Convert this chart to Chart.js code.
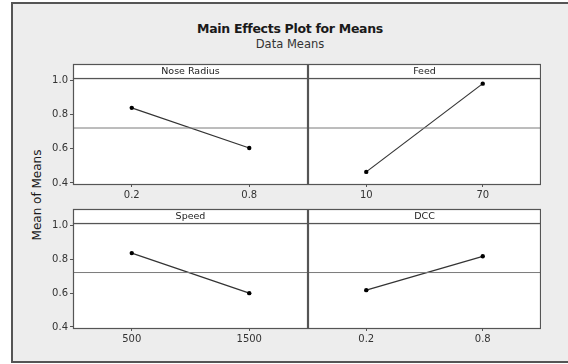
<!DOCTYPE html>
<html>
<head>
<meta charset="utf-8">
<script src="https://cdn.jsdelivr.net/npm/chart.js@4"></script>
<style>
  body{margin:0;background:#fff;width:568px;height:364px;overflow:hidden;position:relative;font-family:"DejaVu Sans",sans-serif;}
  #frame{position:absolute;left:11px;top:2px;width:565px;height:357px;background:#ededed;border:2px solid #555;border-right:none;}
  .txt{position:absolute;white-space:nowrap;color:#1a1a1a;}
  canvas{position:absolute;}
</style>
</head>
<body>
<div id="frame"></div>
<div class="txt" style="left:0;width:580px;top:21px;text-align:center;font-weight:bold;font-size:12.5px;letter-spacing:-0.3px;">Main Effects Plot for Means</div>
<div class="txt" style="left:0;width:580px;top:37px;text-align:center;font-size:11.5px;color:#333;">Data Means</div>
<div class="txt" style="left:37px;top:195px;font-size:12px;transform:translate(-50%,-50%) rotate(-90deg);">Mean of Means</div>

<canvas id="p0" width="268" height="145" style="left:40px;top:60px"></canvas>
<canvas id="p1" width="233" height="145" style="left:308px;top:60px"></canvas>
<canvas id="p2" width="268" height="144" style="left:40px;top:205px"></canvas>
<canvas id="p3" width="233" height="144" style="left:308px;top:205px"></canvas>

<script>
// factor names and their two levels
const factors = ['Nose Radius', 'Feed', 'Speed', 'DCC'];
const noseRadiusLevels = ['0.2', '0.8'];
const feedLevels = ['10', '70'];
const speedLevels = ['500', '1500'];
const dccLevels = ['0.2', '0.8'];

// mean of means at each level
const noseRadiusMeans = [0.840, 0.605];
const feedMeans = [0.465, 0.982];
const speedMeans = [0.837, 0.600];
const dccMeans = [0.618, 0.818];
const grandMean = 0.722;

const yTicks = [0.4, 0.6, 0.8, 1.0];
const yMin = 0.394, yMax = 1.015;

const panelFrame = {
  id: 'panelFrame',
  beforeDraw(chart){
    // white data region
    const {ctx, chartArea:a} = chart;
    ctx.save();
    ctx.fillStyle = '#fff';
    ctx.fillRect(a.left, a.top, a.right - a.left, a.bottom - a.top);
    ctx.restore();
  },
  afterDraw(chart){
    const {ctx, chartArea:a} = chart;
    const title = chart.options.plugins.panelFrame.title;
    ctx.save();
    ctx.strokeStyle = '#555';
    ctx.lineWidth = 1.2;
    ctx.strokeRect(a.left + 0.5, a.top + 0.5, a.right - a.left - 1, a.bottom - a.top);
    // strip with factor name
    const h = 14;
    ctx.fillStyle = '#fff';
    ctx.fillRect(a.left, a.top - h, a.right - a.left, h);
    ctx.strokeRect(a.left + 0.5, a.top - h + 0.5, a.right - a.left - 1, h);
    ctx.fillStyle = '#222';
    ctx.font = '9.5px "DejaVu Sans"';
    ctx.textAlign = 'center';
    ctx.textBaseline = 'middle';
    ctx.fillText(title, (a.left + a.right) / 2, a.top - h / 2 + 0.5);
    ctx.restore();
  }
};

function makePanel(id, title, levels, means, showY){
  return new Chart(document.getElementById(id), {
    type: 'line',
    data: {
      datasets: [
        {
          data: [{x: -0.5, y: grandMean}, {x: 1.5, y: grandMean}],
          borderColor: '#7a7a7a', borderWidth: 1, pointRadius: 0
        },
        {
          data: means.map((m, i) => ({x: i, y: m})),
          borderColor: '#333', borderWidth: 1.2,
          pointRadius: 2.2, pointBackgroundColor: '#000', pointBorderWidth: 0
        }
      ]
    },
    options: {
      responsive: false,
      animation: false,
      layout: {autoPadding: false, padding: {top: 18, left: 0, right: 0, bottom: 0}},
      plugins: {legend: {display: false}, tooltip: {enabled: false}, panelFrame: {title}},
      scales: {
        x: {
          type: 'linear', min: -0.5, max: 1.5,
          afterBuildTicks: s => { s.ticks = levels.map((_, i) => ({value: i})); },
          afterFit: s => { s.height = 21; },
          ticks: {callback: v => levels[v], color: '#333', font: {family: 'DejaVu Sans', size: 10}, padding: 2, maxRotation: 0},
          grid: {drawOnChartArea: false, drawTicks: true, tickLength: 3, color: '#555'},
          border: {display: false}
        },
        y: {
          display: showY,
          min: yMin, max: yMax,
          afterBuildTicks: s => { s.ticks = yTicks.map(v => ({value: v})); },
          afterFit: s => { if (showY) s.width = 33; },
          ticks: {callback: v => v.toFixed(1), color: '#333', font: {family: 'DejaVu Sans', size: 10}, padding: 2},
          grid: {drawOnChartArea: false, drawTicks: true, tickLength: 3, color: '#555'},
          border: {display: false}
        }
      }
    },
    plugins: [panelFrame]
  });
}

makePanel('p0', factors[0], noseRadiusLevels, noseRadiusMeans, true);
makePanel('p1', factors[1], feedLevels, feedMeans, false);
makePanel('p2', factors[2], speedLevels, speedMeans, true);
makePanel('p3', factors[3], dccLevels, dccMeans, false);
</script>
</body>
</html>
